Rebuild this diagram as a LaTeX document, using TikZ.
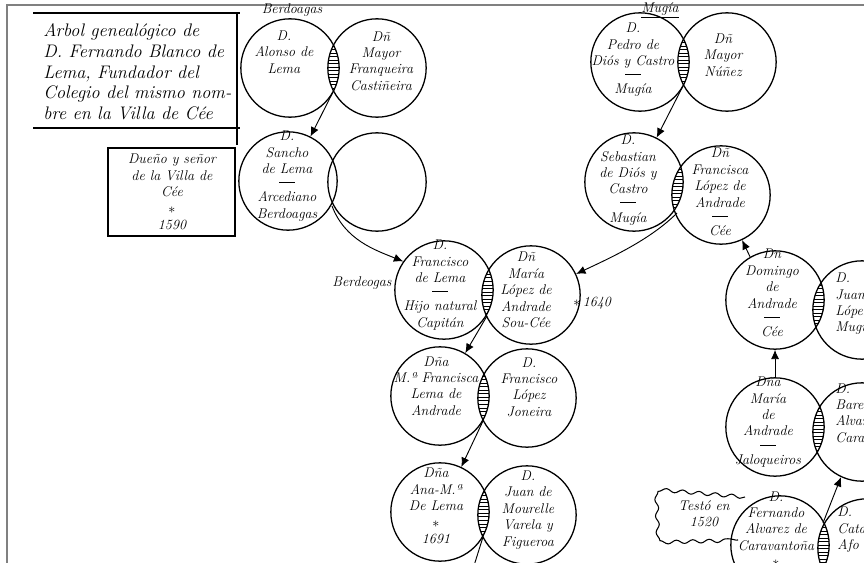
\documentclass[tikz,border=0pt]{standalone}
\usepackage{fontspec}
\usetikzlibrary{patterns,arrows.meta,decorations.pathmorphing}

\tikzset{
  persona/.style={circle, draw, line width=1.1pt, minimum size=2.95cm, inner sep=0pt},
  texto/.style={align=center, font=\itshape\fontsize{12}{14}\selectfont, inner sep=1pt},
  flecha/.style={line width=0.8pt, -{Latex[length=8pt,width=7pt]}},
  marco/.style={line width=0.9pt},
}
\newcommand{\rayado}[2]{%
  \begin{scope}
    \clip (#1.center) circle[radius=1.475cm];
    \fill[pattern=horizontal lines] (#2.center) circle[radius=1.475cm];
  \end{scope}}
\newcommand{\raya}{\\[-3pt]\rule[0.6ex]{1.1em}{0.6pt}\\[-1pt]}

\begin{document}
\begin{tikzpicture}[x=0.03cm, y=-0.03cm]
  \useasboundingbox (0,0) rectangle (864,563);
  \clip (0,0) rectangle (864,563);
  \draw[gray, line width=1.5pt] (7,563) -- (7,5) -- (864,5);

  % titulo
  \draw[marco] (33,13) -- (240,13);
  \draw[marco] (33,128) -- (240,128);
  \draw[marco] (237,13) -- (237,145);
  \node[texto, align=left, anchor=north west, font=\itshape\fontsize{15.5}{17.8}\selectfont] (titulo) at (42,22)
    {Arbol genealógico de\\D. Fernando Blanco de\\Lema, Fundador del\\Colegio del mismo nom-\\bre en la Villa de Cée};
  \draw[marco] (108,148) rectangle (235,236);
  \node[texto] (senor) at (172,192) {Dueño y señor\\de la Villa de\\Cée\\$\ast$\\1590};

  % apellidos
  \node[texto] (berdoagas) at (292,10) {Berdoagas};
  \node[texto] (mugia) at (660,10) {\underline{Mugía}};
  \node[texto] (berdeogas) at (362,283) {Berdeogas};

  % Berdoagas
  \node[persona] (alonso) at (290,68) {};
  \node[texto] (alonso-t) at (284,52) {D.\\Alonso de\\Lema};
  \node[persona] (mayor) at (377,68) {};
  \node[texto] (mayor-t) at (381,61) {Dñ\\Mayor\\Franqueira\\Castiñeira};
  \node[persona] (sancho) at (288,181) {};
  \node[texto] (sancho-t) at (287,176) {D.\\Sancho\\de Lema\raya Arcediano\\Berdoagas};
  \node[persona] (vacio) at (377,182) {};

  % Mugia
  \node[persona] (pedro) at (640,62) {};
  \node[texto] (pedro-t) at (633,60) {D.\\Pedro de\\Diós y Castro\raya Mugía};
  \node[persona] (nunez) at (727,62) {};
  \node[texto] (nunez-t) at (723,55) {Dñ\\Mayor\\Núñez};
  \node[persona] (sebastian) at (634,182) {};
  \node[texto] (sebastian-t) at (628,180) {D.\\Sebastian\\de Diós y\\Castro\raya Mugía};
  \node[persona] (francisca) at (721,195) {};
  \node[texto] (francisca-t) at (720,192) {Dñ\\Francisca\\López de\\Andrade\raya Cée};

  % centro
  \node[persona] (francisco) at (444,290) {};
  \node[texto] (francisco-t) at (440,285) {D.\\Francisco\\de Lema\raya Hijo natural\\Capitán};
  \node[persona] (maria) at (531,295) {};
  \node[texto] (maria-t) at (526,290) {Dñ\\María\\López de\\Andrade\\Sou-Cée};
  \node[texto, anchor=west] (ano) at (572,303) {$\ast$\,1640};
  \node[persona] (mfrancisca) at (440,396) {};
  \node[texto] (mfrancisca-t) at (436,386) {Dña\\M.ª Francisca\\Lema de\\Andrade};
  \node[persona] (flopez) at (527,398) {};
  \node[texto] (flopez-t) at (529,387) {D.\\Francisco\\López\\Joneira};
  \node[persona] (ana) at (440,512) {};
  \node[texto] (ana-t) at (436,506) {Dña\\Ana-M.ª\\De Lema\\$\ast$\\1691};
  \node[persona] (juan) at (527,515) {};
  \node[texto] (juan-t) at (528,510) {D.\\Juan de\\Mourelle\\Varela y\\Figueroa};

  % derecha
  \node[persona] (domingo) at (775,300) {};
  \node[texto] (domingo-t) at (772,293) {Dn\\Domingo\\de\\Andrade\raya Cée};
  \node[persona] (jlopez) at (862,310) {};
  \node[texto, align=left, anchor=west] (jlopez-t) at (834,304) {D.\\Juan\\López\\Mugía};
  \node[persona] (mandrade) at (775,427) {};
  \node[texto] (mandrade-t) at (768,422) {Dña\\María\\de\\Andrade\raya Jaloqueiros};
  \node[persona] (baren) at (862,432) {};
  \node[texto, align=left, anchor=west] (baren-t) at (834,413) {D.\\Baren\\Alvarez\\Carav};
  \node[persona] (fernando) at (780,545) {};
  \node[texto] (fernando-t) at (776,529) {D.\\Fernando\\Alvarez de\\Caravantoña\\$\ast$};
  \node[persona] (cata) at (867,548) {};
  \node[texto, align=left, anchor=west] (cata-t) at (836,530) {D.\\Cata\\Afo};

  \draw[marco, decorate, decoration={snake, amplitude=1.5pt, segment length=14pt}]
    (745,497) -- (662,490) -- (664,542) -- (738,540);
  \node[texto] (testo) at (704,514) {Testó en\\1520};

  % uniones
  \rayado{alonso}{mayor}
  \rayado{pedro}{nunez}
  \rayado{sebastian}{francisca}
  \rayado{francisco}{maria}
  \rayado{mfrancisca}{flopez}
  \rayado{ana}{juan}
  \rayado{domingo}{jlopez}
  \rayado{mandrade}{baren}
  \rayado{fernando}{cata}

  \coordinate (u-alonso) at (333,92);
  \coordinate (u-sancho) at (332,206);
  \coordinate (u-pedro) at (683,86);
  \coordinate (u-sebastian) at (677,213);
  \coordinate (u-francisco) at (487,316);
  \coordinate (u-mfrancisca) at (483,421);
  \coordinate (u-ana) at (483,537);
  \coordinate (u-fernando) at (823,523);
  \coordinate (fin) at (472,572);

  \draw[flecha] (u-alonso) -- (sancho);
  \draw[flecha] (u-sancho) .. controls (345,240) and (375,250) .. (francisco.145);
  \draw[flecha] (u-pedro) -- (sebastian);
  \draw[flecha] (u-sebastian) .. controls (650,240) and (610,258) .. (maria.25);
  \draw[flecha] (u-francisco) -- (mfrancisca);
  \draw[flecha] (u-mfrancisca) -- (ana);
  \draw[line width=0.8pt] (u-ana) -- (fin);
  \draw[flecha] (domingo.120) -- (francisca.-65);
  \draw[flecha] (mandrade.90) -- (domingo.-90);
  \draw[flecha] (u-fernando) -- (baren.-115);
\end{tikzpicture}
\end{document}
